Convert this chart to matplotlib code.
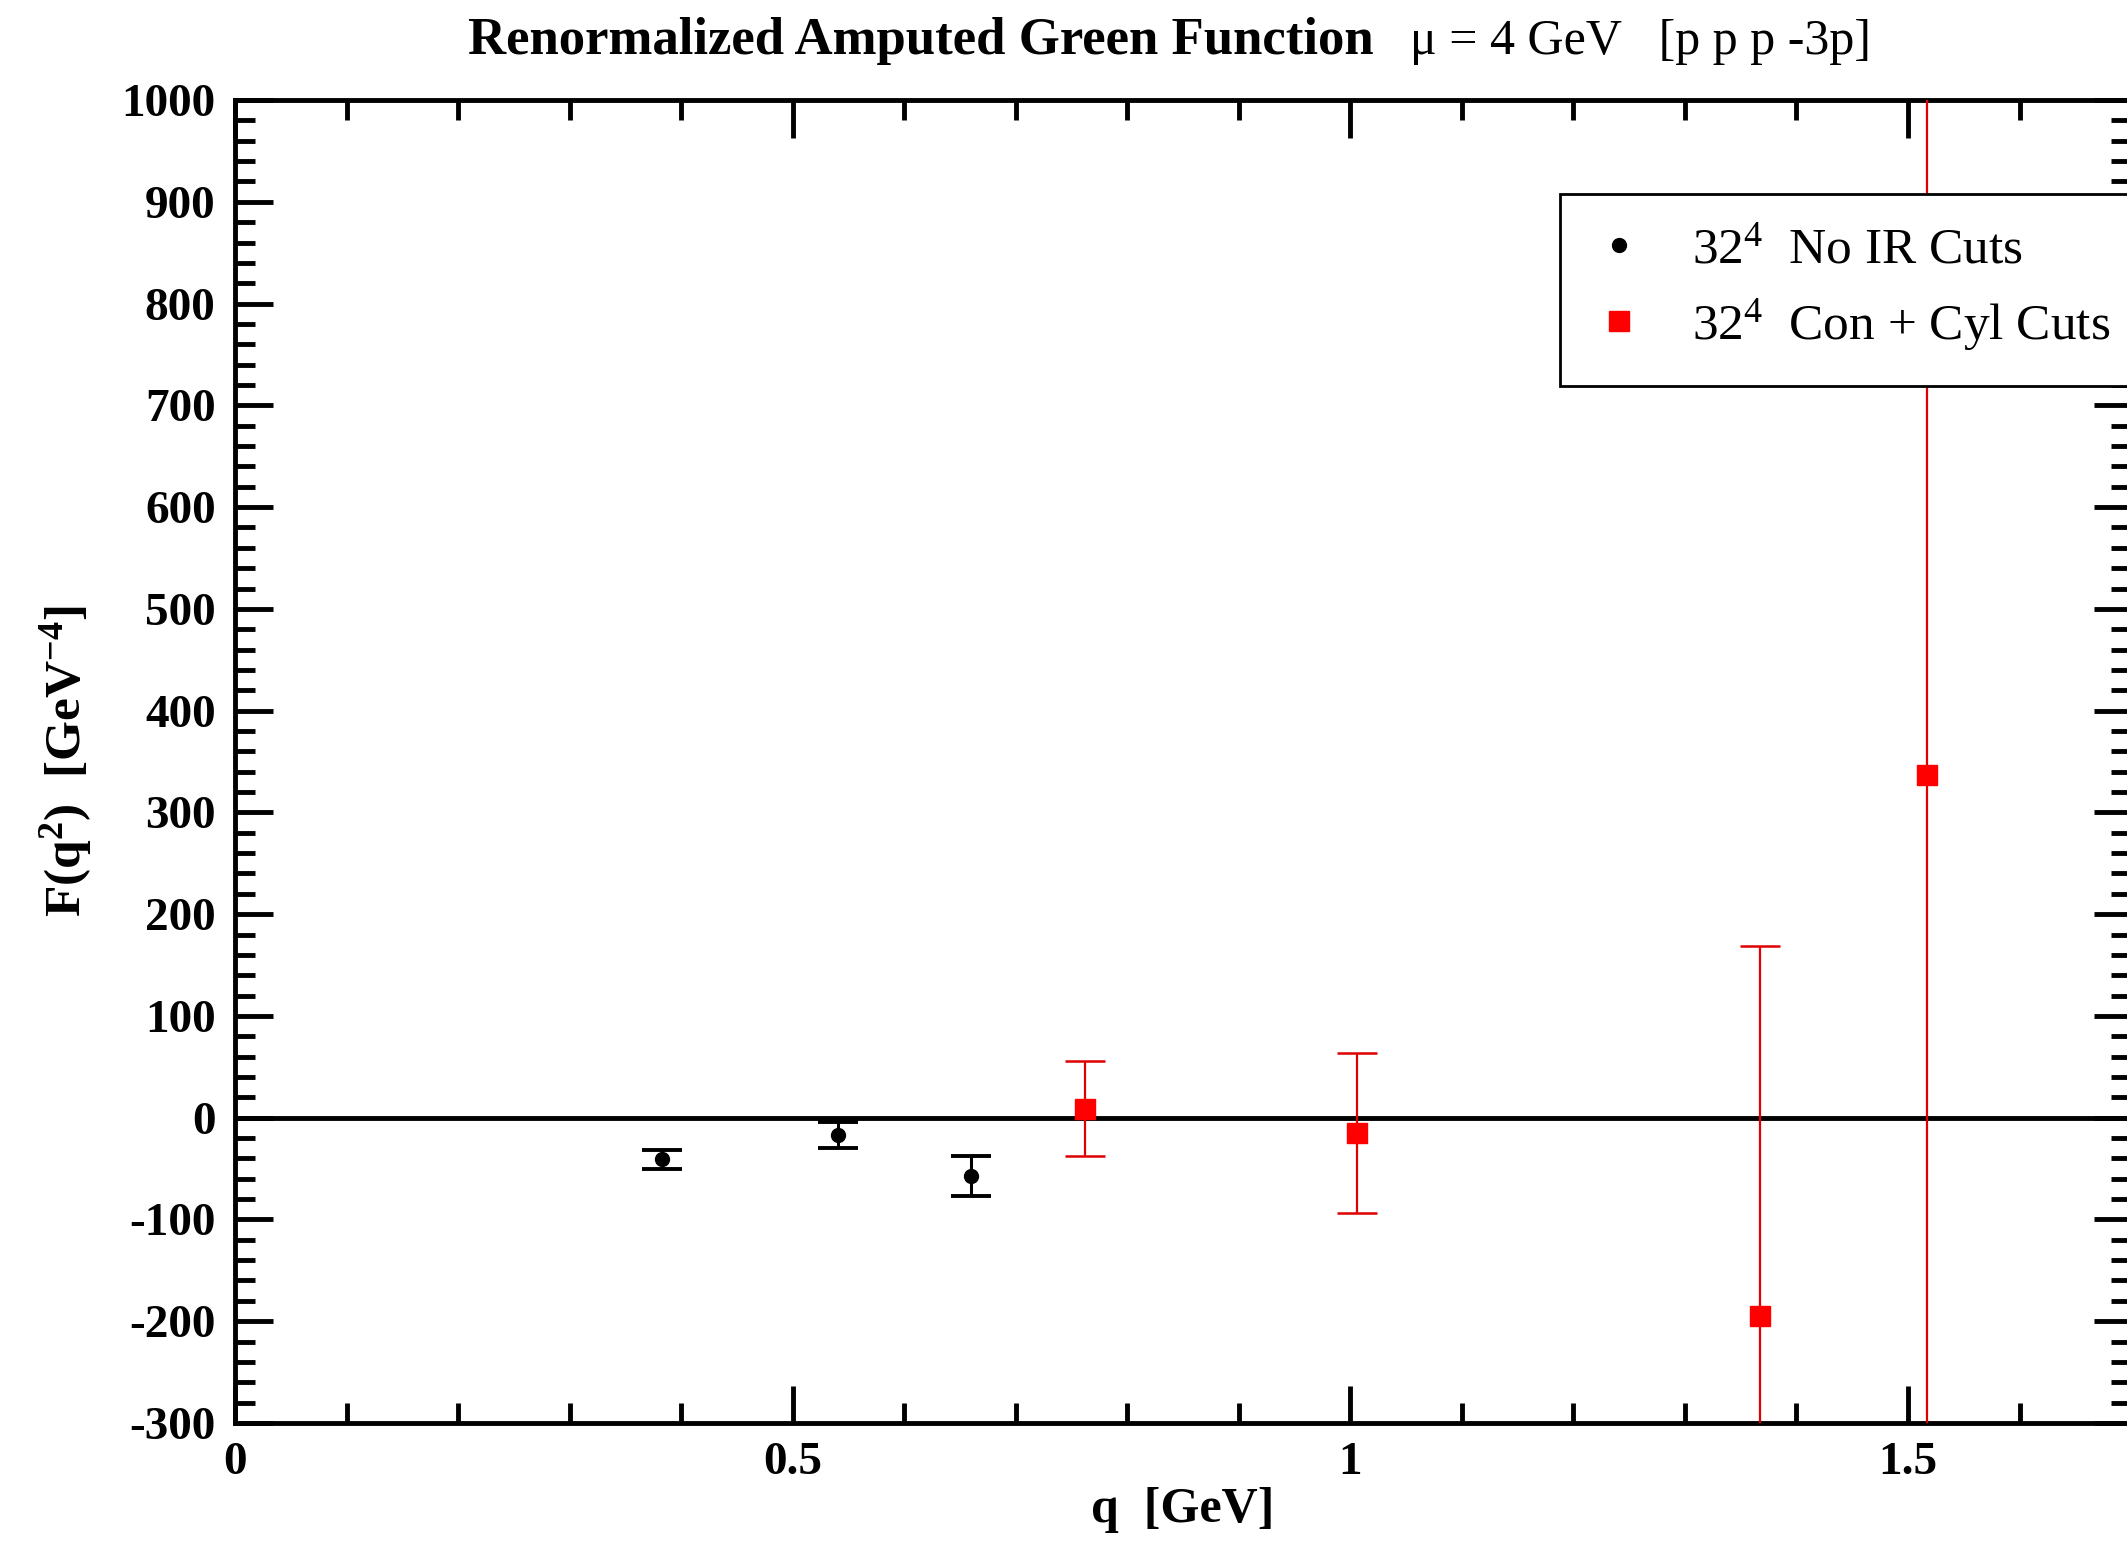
import matplotlib
matplotlib.use('Agg')
import matplotlib.pyplot as plt
from matplotlib.ticker import MultipleLocator

plt.rcParams['font.family'] = ['Liberation Serif', 'DejaVu Serif']
plt.rcParams['mathtext.default'] = 'regular'
plt.rcParams['axes.unicode_minus'] = False

# data
q_nocut = [0.383, 0.541, 0.660]
F_nocut = [-41, -17, -57]
err_nocut = [9.5, 12.8, 19.6]

q_cut = [0.762, 1.006, 1.367, 1.517]
F_cut = [9, -15, -195, 337]
err_cut = [47, 79, 364, 760]

xticks = [0, 0.5, 1, 1.5]
xticklabels = ['0', '0.5', '1', '1.5']
yticks = list(range(-300, 1001, 100))

fig = plt.figure(figsize=(21.27, 15.56), dpi=100)
ax = fig.add_axes([0.1105, 0.0855, 0.8914, 0.8502])

# zero line
ax.axhline(0, color='black', lw=3.5, zorder=1)

ax.errorbar(q_nocut, F_nocut, yerr=err_nocut, fmt='none', ecolor='black',
            elinewidth=2.2, capsize=14.4, capthick=2.8, zorder=3)
ax.plot(q_nocut, F_nocut, 'o', color='black', ms=10, label=r'32$^4$  No IR Cuts', zorder=4)

ax.errorbar(q_cut, F_cut, yerr=err_cut, fmt='none', ecolor='#e00000',
            elinewidth=1.6, capsize=14.4, capthick=1.8, zorder=3)
ax.plot(q_cut, F_cut, 's', color='#ff0000', ms=15, label=r'32$^4$  Con + Cyl Cuts', zorder=4)

ax.set_xlim(0, 1.7)
ax.set_ylim(-300, 1000)
ax.set_xticks(xticks)
ax.set_xticklabels(xticklabels)
ax.set_yticks(yticks)
ax.xaxis.set_minor_locator(MultipleLocator(0.1))
ax.yaxis.set_minor_locator(MultipleLocator(20))
ax.tick_params(which='both', direction='in', top=True, right=True, width=3.5)
ax.tick_params(which='major', length=27, pad=14)
ax.tick_params(which='minor', length=14.5)
for lab in ax.get_xticklabels() + ax.get_yticklabels():
    lab.set_fontsize(34)
    lab.set_fontweight('bold')
for s in ax.spines.values():
    s.set_linewidth(3.5)

ax.set_xlabel('q  [GeV]', fontsize=36, fontweight='bold', labelpad=2)
ax.set_ylabel(r'F(q$^2$)  [GeV$^{-4}$]', fontsize=37, fontweight='bold', labelpad=20)

leg = ax.legend(loc='upper left', bbox_to_anchor=(0.699, 0.929), borderaxespad=0,
                fontsize=37, frameon=True, fancybox=False, framealpha=1,
                edgecolor='black', borderpad=0.64, handlelength=1.0,
                handletextpad=0.92, labelspacing=0.45, markerscale=1.0)
leg.get_frame().set_linewidth(2)

# title: bold part plus plain part
fig.text(0.646, 1 - 54 / 1556, 'Renormalized Amputed Green Function', ha='right',
         va='baseline', fontsize=38, fontweight='bold')
fig.text(0.663, 1 - 54 / 1556, 'μ = 4 GeV   [p p p -3p]', ha='left',
         va='baseline', fontsize=36)

fig.savefig('out.png', dpi=100)
